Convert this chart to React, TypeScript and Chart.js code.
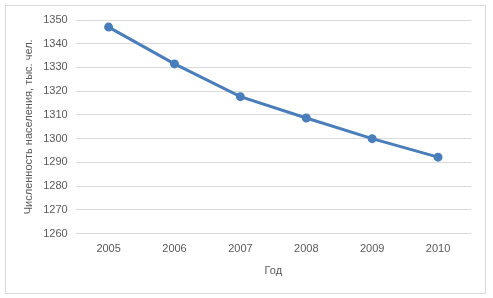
import React, { useEffect, useRef } from "react";
import { Chart, registerables } from "chart.js";

Chart.register(...registerables);

const years = ["2005", "2006", "2007", "2008", "2009", "2010"];
const population = [1347, 1331.5, 1317.7, 1308.7, 1300, 1292.2];
const yMin = 1260;
const yMax = 1350;
const yStep = 10;
const xTitle = "Год";
const yTitle = "Численность населения, тыс. чел.";

export default function App() {
  const ref = useRef<HTMLCanvasElement | null>(null);

  useEffect(() => {
    document.body.style.margin = "0";
    const ctx = ref.current;
    if (!ctx) return;
    const font = { family: "'Liberation Sans', Arial, sans-serif", size: 11 };
    const chart = new Chart(ctx, {
      type: "line",
      data: {
        labels: years,
        datasets: [
          {
            data: population,
            borderColor: "#4A7EBB",
            backgroundColor: "#4A7EBB",
            borderWidth: 3,
            pointRadius: 3,
            pointBackgroundColor: "#4A7EBB",
            pointBorderColor: "#4A7EBB",
            tension: 0,
          },
        ],
      },
      options: {
        animation: false,
        responsive: false,
        devicePixelRatio: 1,
        layout: { padding: { left: 22, right: 22, top: 20, bottom: 20 } },
        plugins: { legend: { display: false }, tooltip: { enabled: false } },
        scales: {
          x: {
            offset: true,
            grid: { display: false, drawTicks: false },
            border: { display: false },
            ticks: { color: "#595959", font, padding: 9 },
            title: {
              display: true,
              text: xTitle,
              color: "#595959",
              font,
              padding: { top: 0, bottom: 0 },
            },
          },
          y: {
            min: yMin,
            max: yMax,
            grid: { color: "#D9D9D9", lineWidth: 1, drawTicks: false },
            border: { display: false },
            ticks: {
              stepSize: yStep,
              color: "#595959",
              font,
              padding: 8,
              callback: (v: any) => String(v),
            },
            title: {
              display: true,
              text: yTitle,
              color: "#595959",
              font,
              padding: { top: 0, bottom: 0 },
            },
          },
        },
      },
    });
    return () => chart.destroy();
  }, []);

  return (
    <div style={{ position: "relative", width: 493, height: 298 }}>
      <div
        style={{
          position: "absolute",
          left: 5,
          top: 5,
          width: 479,
          height: 287,
          border: "1px solid #D9D9D9",
          background: "#fff",
        }}
      />
      <canvas
        ref={ref}
        width={493}
        height={298}
        style={{ position: "absolute", left: 0, top: 0 }}
      />
    </div>
  );
}
